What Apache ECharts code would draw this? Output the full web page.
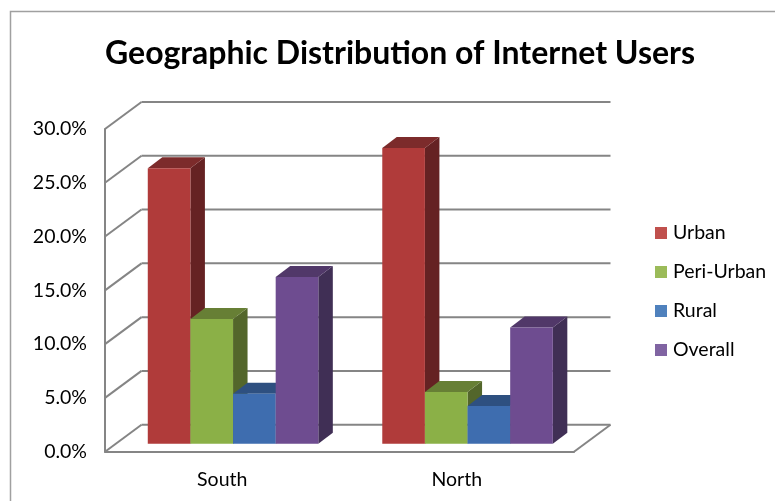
<!DOCTYPE html>
<html><head><meta charset="utf-8">
<style>html,body{margin:0;padding:0;background:#fff}#c{width:775px;height:501px}</style>
<script src="https://cdn.jsdelivr.net/npm/echarts@6/dist/echarts.min.js"></script>
</head><body><div id="c"></div>
<script>
const categories = ['South', 'North'];
const urban = [25.6, 27.5];
const periUrban = [11.6, 4.8];
const rural = [4.65, 3.5];
const overall = [15.5, 10.8];
const ticks = [0, 5, 10, 15, 20, 25, 30];

const FONT = 'Lato, "Open Sans", sans-serif';
const WALL = [36.5, -27];      // wall depth
const BAR_D = [14.5, -11];     // bar depth
const BAR_O = [10.8, -8];      // bar front plane offset from the axis plane
const GAP = 1.5;               // gap width, in bar widths

const styles = [
  {name:'Urban', data:urban, front:'#B03B3A', side:'#652223', top:'#7C2B2B', icon:'#C0504D'},
  {name:'Peri-Urban', data:periUrban, front:'#8BB047', side:'#53662B', top:'#677F35', icon:'#9BBB59'},
  {name:'Rural', data:rural, front:'#3E6DAF', side:'#2A4A75', top:'#2E5080', icon:'#4F81BD'},
  {name:'Overall', data:overall, front:'#6E4C90', side:'#402F55', top:'#513869', icon:'#8064A2'}
];

const chart = echarts.init(document.getElementById('c'), null, {renderer:'canvas'});

function wallItem(params, api) {
  const v = api.value(0);
  const g = params.coordSys;
  const p = api.coord([0, v]);
  const y = p[1];
  const xL = g.x, xR = g.x + g.width;
  const st = {stroke:'#858585', lineWidth:2, fill:null};
  const kids = [
    {type:'line', shape:{x1:xL, y1:y, x2:xL+WALL[0], y2:y+WALL[1]}, style:st},
    {type:'line', shape:{x1:xL+WALL[0], y1:y+WALL[1], x2:xR+WALL[0], y2:y+WALL[1]}, style:st}
  ];
  if (v === 0) {
    kids.push({type:'line', shape:{x1:xR, y1:y, x2:xR+WALL[0], y2:y+WALL[1]}, style:st});
  }
  return {type:'group', children:kids};
}

function barItem(sIdx) {
  return function (params, api) {
    const c = api.value(0), v = api.value(1);
    const bandW = api.size([1, 0])[0];
    const w = bandW / (styles.length + GAP);
    const top = api.coord([c, v]);
    const base = api.coord([c, 0]);
    const x0 = top[0] - 2 * w + sIdx * w + BAR_O[0];
    const x1 = x0 + w;
    const yT = top[1] + BAR_O[1];
    const yB = base[1] + BAR_O[1];
    const s = styles[sIdx];
    const dx = BAR_D[0], dy = BAR_D[1];
    return {type:'group', children:[
      {type:'polygon', shape:{points:[[x1,yT],[x1+dx,yT+dy],[x1+dx,yB+dy],[x1,yB]]}, style:{fill:s.side}},
      {type:'polygon', shape:{points:[[x0,yT],[x0+dx,yT+dy],[x1+dx,yT+dy],[x1,yT]]}, style:{fill:s.top}},
      {type:'rect', shape:{x:x0, y:yT, width:w, height:yB-yT}, style:{fill:s.front}}
    ]};
  };
}

const series = [{
  type:'custom', name:'walls', silent:true, z:1,
  data: ticks.map(t => [t]), encode:{y:0},
  renderItem: wallItem
}].concat(styles.map((s, i) => ({
  type:'custom', name:s.name, z:2 + i, itemStyle:{color:s.icon},
  data: s.data.map((v, k) => [k, v]), encode:{x:0, y:1},
  renderItem: barItem(i)
})));

chart.setOption({
  animation:false,
  backgroundColor:'#fff',
  title:{text:'Geographic Distribution of Internet Users', left:395, top:33, textAlign:'center',
    textStyle:{fontFamily:FONT, fontWeight:'bold', fontSize:32, color:'#000'}},
  legend:{orient:'vertical', left:655, top:222, padding:0, itemWidth:12, itemHeight:12, itemGap:17, icon:'rect',
    data:styles.map(s => s.name),
    textStyle:{fontFamily:FONT, fontSize:19.5, color:'#000', lineHeight:22, padding:[0,0,0,1]}, itemStyle:{borderWidth:0}},
  grid:{left:105, top:129, width:469, height:322.7, containLabel:false},
  xAxis:{type:'category', data:categories, boundaryGap:true,
    axisLine:{show:true, lineStyle:{color:'#858585', width:2}}, axisTick:{show:false}, splitLine:{show:false},
    axisLabel:{fontFamily:FONT, fontSize:19.5, color:'#000', margin:18}},
  yAxis:{type:'value', min:0, max:30, interval:5,
    axisLine:{show:true, lineStyle:{color:'#858585', width:2}}, axisTick:{show:false}, splitLine:{show:false},
    axisLabel:{fontFamily:FONT, fontSize:19.5, color:'#000', margin:18, padding:[3,0,0,0], formatter:v => v.toFixed(1) + '%'}},
  graphic:[{type:'rect', silent:true, z:-1, shape:{x:10.5, y:11.5, width:800, height:600},
    style:{fill:'#fff', stroke:'#A0A0A0', lineWidth:1.5}}],
  series
});
</script></body></html>
